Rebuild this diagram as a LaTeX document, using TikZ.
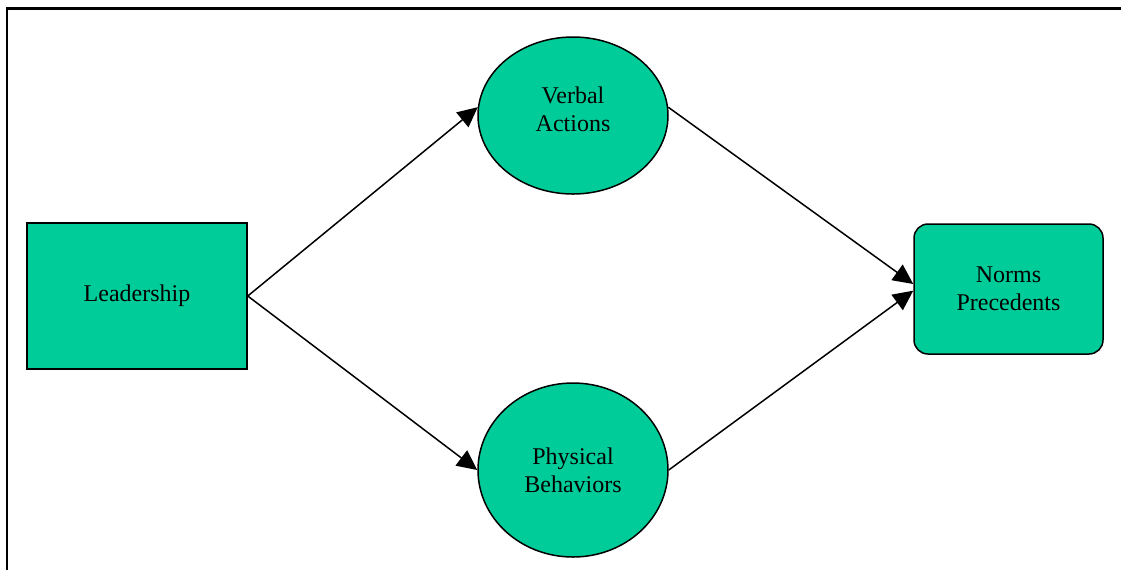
\documentclass[tikz,border=0pt]{standalone}
\usepackage{fontspec}
\setmainfont{Liberation Serif}
\usetikzlibrary{arrows.meta,shapes.geometric}
\definecolor{fillgreen}{RGB}{0,204,153}
\begin{document}
\begin{tikzpicture}[x=0.5pt,y=-0.5pt,
  box/.style={draw=black,line width=0.75pt,fill=fillgreen,inner sep=0pt,
    font=\fontsize{12}{14}\selectfont,align=center},
  blob/.style={ellipse,draw=black,line width=0.75pt,fill=fillgreen,inner sep=0pt,
    font=\fontsize{12}{14}\selectfont,align=center},
  lbl/.style={font=\fontsize{12}{14}\selectfont,align=center,text=black},
  flow/.style={line width=0.75pt,-{Triangle[length=10pt,width=9.5pt]}}]
\useasboundingbox (0,0) rectangle (1121,570);
\fill[white] (0,0) rectangle (1121,570);
% page frame (top and left edges)
\draw[line width=1.1pt] (7,570) -- (7,8.5) -- (1121,8.5);

% nodes
\node[box,minimum width=110pt,minimum height=73pt] (lead) at (137,296) {Leadership};
\node[blob,minimum width=95pt,minimum height=78.5pt] (verbal) at (573,115.5) {};
\node[lbl] (vtext) at (573,109) {Verbal\\Actions};
\node[blob,minimum width=95pt,minimum height=87pt] (phys) at (573,470) {Physical\\Behaviors};
\node[box,rounded corners=7pt,minimum width=94.5pt,minimum height=65pt] (norms) at (1008.5,289) {Norms\\Precedents};

% connectors
\draw[flow] (lead.east) -- (verbal.175);
\draw[flow] (lead.east) -- (phys.west);
\draw[flow] (verbal.5) -- (norms.177.5);
\draw[flow] (phys.east) -- (norms.181.5);
\end{tikzpicture}
\end{document}
